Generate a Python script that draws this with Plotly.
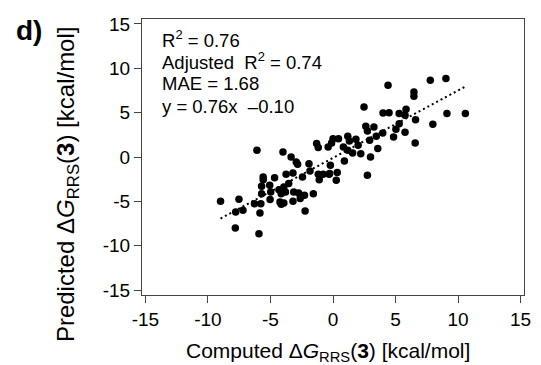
import plotly.graph_objects as go

computed = [4.40, 7.78, 9.03, 6.47, 6.47, 2.48, 4.00, 4.48, 5.84, 5.29,
            5.76, 6.60, 9.11, 10.58, 7.98, 5.29, 5.03, 5.76, 4.84, 2.62,
            3.27, 2.75, 3.98, 3.46, 2.93, 6.57, 3.58, 3.00, 1.18, 0.44,
            1.83, 1.31, -0.11, 2.01, 0.83, 1.18, 1.57, 2.22, -0.39, 0.91,
            -0.21, -0.27, 0.34, 0.26, 2.75, -6.08, -4.00, -3.35, -2.94, -2.83,
            -1.92, -1.18, -0.79, -0.31, -1.10, -1.84, -2.44, -3.20, -3.75, -4.67,
            -5.58, -5.58, -5.71, -5.06, -3.54, -3.93, -4.32, -3.80, -4.14, -4.98,
            -3.14, -2.75, -2.28, -2.62, -1.57, -3.20, -4.24, -3.93, -4.14, -5.03,
            -5.71, -5.77, -6.28, -5.84, -2.23, -7.52, -8.99, -7.78, -7.20, -7.81,
            -5.92, -1.31, -1.18, 0.00]
predicted = [8.08, 8.65, 8.84, 7.33, 6.84, 5.64, 4.96, 5.00, 5.38, 4.89,
             4.70, 4.20, 4.89, 4.89, 3.69, 3.76, 3.12, 2.78, 2.25, 3.46,
             3.38, 2.93, 2.71, 2.33, 1.88, 1.58, 0.95, 0.00, 2.33, 2.07,
             2.00, 1.80, 1.58, 1.32, 1.13, 0.76, 0.45, 0.38, 1.13, -0.45,
             -0.94, -1.87, -1.76, -2.63, -2.06, 0.76, 0.56, 0.00, -0.56, -0.82,
             -0.75, -1.95, -1.95, -1.95, -2.55, -1.58, -2.25, -1.80, -1.95, -2.33,
             -2.25, -2.55, -3.30, -3.19, -3.00, -3.38, -3.68, -3.95, -4.13, -3.95,
             -3.95, -4.06, -4.32, -4.69, -4.13, -4.99, -5.07, -5.18, -5.33, -4.80,
             -4.13, -5.26, -5.26, -6.31, -6.09, -4.77, -4.99, -6.20, -6.01, -8.00,
             -8.64, 1.51, 1.06, 2.07]

fit_slope = 0.76
fit_intercept = -0.10
stats_lines = ["R<sup>2</sup> = 0.76", "Adjusted  R<sup>2</sup> = 0.74",
               "MAE = 1.68", "y = 0.76x  \u20130.10"]
tick_vals = [-15, -10, -5, 0, 5, 10, 15]
tick_text = ["-15", "-10", "-5", "0", "5", "10", "15"]

FONT = "Liberation Sans, Arial, sans-serif"

fit_x = [min(computed), max(computed)]
fit_y = [fit_slope * v + fit_intercept for v in fit_x]

fig = go.Figure()
fig.add_trace(go.Scatter(x=fit_x, y=fit_y, mode="lines",
                         line=dict(color="black", width=2, dash="2px,3px"),
                         hoverinfo="skip", showlegend=False))
fig.add_trace(go.Scatter(x=computed, y=predicted, mode="markers",
                         marker=dict(color="black", size=7.5, line=dict(width=0)),
                         showlegend=False))

axis_common = dict(
    tickmode="array", tickvals=tick_vals, ticktext=tick_text,
    ticks="outside", ticklen=7, tickwidth=1, tickcolor="#444",
    showline=True, linecolor="#444", linewidth=1, mirror=True,
    showgrid=False, zeroline=False,
    tickfont=dict(family=FONT, size=19, color="black"),
)
fig.update_xaxes(range=[-15.27, 15.27], **axis_common)
fig.update_yaxes(range=[-15.55, 15.55], **axis_common)

ys = [0.928, 0.848, 0.765, 0.682]
for t, yy in zip(stats_lines, ys):
    fig.add_annotation(text=t, xref="paper", yref="paper", x=0.048, y=yy,
                       xanchor="left", yanchor="middle", showarrow=False,
                       font=dict(family=FONT, size=18.5, color="black"))

fig.add_annotation(text="Computed \u0394<i>G</i><sub>RRS</sub>(<b>3</b>) [kcal/mol]",
                   xref="paper", yref="paper", x=0.487, y=-0.205,
                   xanchor="center", yanchor="middle", showarrow=False,
                   font=dict(family=FONT, size=21, color="black"))
fig.add_annotation(text="Predicted \u0394<i>G</i><sub>RRS</sub>(<b>3</b>) [kcal/mol]",
                   xref="paper", yref="paper", x=-0.195, y=0.40,
                   xanchor="center", yanchor="middle", textangle=-90, showarrow=False,
                   font=dict(family=FONT, size=24, color="black"))
fig.add_annotation(text="<b>d)</b>", xref="paper", yref="paper", x=-0.296, y=0.957,
                   xanchor="center", yanchor="middle", showarrow=False,
                   font=dict(family=FONT, size=28, color="black"))

fig.update_layout(width=541, height=365, margin=dict(l=142, r=10, t=19, b=70),
                  plot_bgcolor="white", paper_bgcolor="white")
fig.write_html("out.html", config={"displayModeBar": False},
               post_script="document.body.style.margin='0';document.body.style.overflow='hidden';")
